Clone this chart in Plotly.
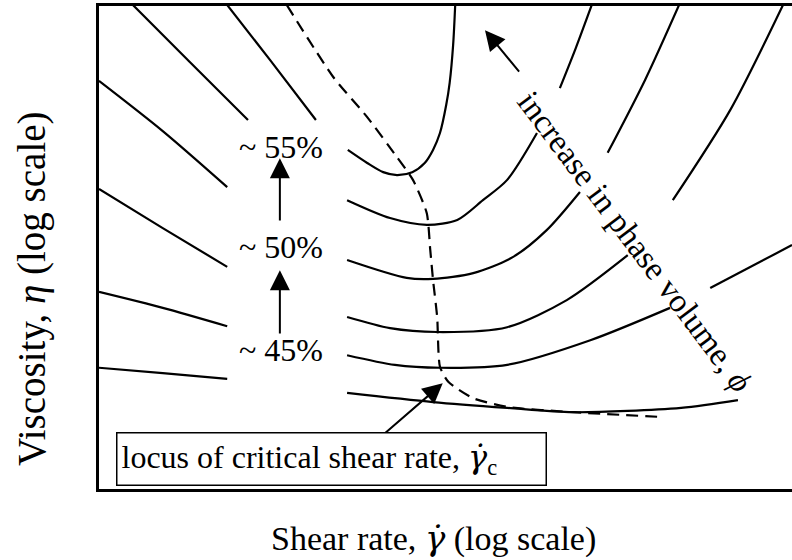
import plotly.graph_objects as go

# ---- data (log shear rate, log viscosity; arbitrary schematic units) ----
# low-shear branches (left of labels)
L1_x = [0.49, 1.31, 2.15]; L1_y = [10.02, 8.84, 7.64]
L2_x = [1.85, 2.47, 3.13]; L2_y = [10.02, 8.88, 7.64]
L3_x = [0.00, 0.92, 1.85]; L3_y = [8.45, 7.41, 6.25]
L4_x = [0.00, 0.92, 1.85]; L4_y = [6.21, 5.40, 4.60]
L5_x = [0.00, 0.92, 1.85]; L5_y = [4.08, 3.75, 3.37]
L6_x = [0.00, 0.92, 1.85]; L6_y = [2.51, 2.40, 2.28]

# high-shear branches (right of labels), broken where the rotated text sits
R1_x = [3.59, 3.87, 4.10, 4.30, 4.52, 4.70, 4.82, 4.92, 5.01, 5.06, 5.11, 5.14]
R1_y = [7.02, 6.75, 6.56, 6.50, 6.56, 6.75, 7.02, 7.37, 7.95, 8.41, 9.19, 10.02]
R2a_x = [3.58, 4.20, 4.73, 5.17, 5.54, 5.89, 6.32]
R2a_y = [5.98, 5.61, 5.47, 5.57, 5.98, 6.40, 7.37]
R2b_x = [6.65, 6.88, 7.11]
R2b_y = [8.30, 9.13, 10.02]
R3a_x = [3.58, 4.44, 4.82, 5.40, 5.97, 6.46, 6.94]
R3a_y = [4.74, 4.37, 4.35, 4.47, 4.80, 5.36, 6.15]
R3b_x = [7.34, 7.88, 8.37]
R3b_y = [6.96, 8.47, 10.02]
R4a_x = [3.58, 4.20, 4.88, 5.89, 6.75, 7.63]
R4a_y = [3.56, 3.33, 3.25, 3.35, 3.91, 4.84]
R4b_x = [8.28, 9.11, 9.87]
R4b_y = [5.98, 7.85, 10.02]
R5a_x = [3.58, 4.27, 4.92, 5.89, 7.09, 8.24]
R5a_y = [2.77, 2.57, 2.51, 2.57, 3.08, 3.75]
R5b_x = [8.82, 10.0]
R5b_y = [4.16, 5.05]
R6_x = [3.58, 4.82, 5.89, 6.84, 8.40, 9.22]
R6_y = [1.99, 1.80, 1.68, 1.59, 1.68, 1.84]

# locus of critical shear rate (dashed)
LOC_x = [2.71, 3.38, 3.87, 4.30, 4.53, 4.73, 4.78, 4.82, 4.88, 4.92, 5.04, 5.40, 5.89, 6.84, 8.14]
LOC_y = [10.02, 8.53, 7.70, 6.87, 6.40, 5.71, 4.95, 4.33, 3.56, 2.53, 2.22, 1.88, 1.70, 1.59, 1.49]

# phase-volume labels
PHI_labels = ["~ 55%", "~ 50%", "~ 45%"]
PHI_x = [2.63, 2.63, 2.63]
PHI_y = [7.08, 5.01, 2.88]

# arrows: (tip x, tip y, tail x, tail y)
ARROWS = [
    (2.61, 6.85, 2.61, 5.53),
    (2.61, 4.53, 2.61, 3.19),
    (4.96, 2.19, 4.10, 1.12),
    (5.57, 9.50, 6.08, 8.61),
]

FONT = "Liberation Serif, Times New Roman, serif"
GDOT = '<span style="font-family:DejaVu Serif"><i>γ\u0307</i></span>'

fig = go.Figure()

solid = [(L1_x, L1_y), (L2_x, L2_y), (L3_x, L3_y), (L4_x, L4_y), (L5_x, L5_y), (L6_x, L6_y),
         (R1_x, R1_y), (R2a_x, R2a_y), (R2b_x, R2b_y), (R3a_x, R3a_y), (R3b_x, R3b_y),
         (R4a_x, R4a_y), (R4b_x, R4b_y), (R5a_x, R5a_y), (R5b_x, R5b_y), (R6_x, R6_y)]
for xs, ys in solid:
    fig.add_trace(go.Scatter(x=xs, y=ys, mode="lines",
                             line=dict(color="black", width=2.2, shape="spline", smoothing=0.8),
                             hoverinfo="skip", showlegend=False))

fig.add_trace(go.Scatter(x=LOC_x, y=LOC_y, mode="lines",
                         line=dict(color="black", width=2.2, dash="12px,7px", shape="spline", smoothing=0.6),
                         hoverinfo="skip", showlegend=False))

annotations = []
for t, x, y in zip(PHI_labels, PHI_x, PHI_y):
    annotations.append(dict(x=x, y=y, text=t, showarrow=False,
                            font=dict(family=FONT, size=32, color="black")))

for tx, ty, sx, sy in ARROWS:
    annotations.append(dict(x=tx, y=ty, ax=sx, ay=sy, axref="x", ayref="y", xref="x", yref="y",
                            text="", showarrow=True, arrowhead=2, arrowsize=2,
                            arrowwidth=2, arrowcolor="black", standoff=0, startstandoff=0))

annotations.append(dict(x=7.74, y=5.12, text="increase in phase volume, <i>ϕ</i>",
                        textangle=53, showarrow=False,
                        font=dict(family=FONT, size=33, color="black")))

annotations.append(dict(x=3.35, y=0.62, text="locus of critical shear rate, " + GDOT + "<sub>c</sub>",
                        showarrow=False, width=420, height=43, align="left", valign="middle",
                        bordercolor="black", borderwidth=1.5, borderpad=4, bgcolor="white",
                        font=dict(family=FONT, size=32, color="black")))

annotations.append(dict(xref="paper", yref="paper", x=0.483, y=-0.101,
                        xanchor="center", yanchor="middle",
                        text="Shear rate, " + GDOT + " (log scale)", showarrow=False,
                        font=dict(family=FONT, size=34, color="black")))
annotations.append(dict(xref="paper", yref="paper", x=-0.0967, y=0.416,
                        xanchor="center", yanchor="middle",
                        text="Viscosity, <i>η</i> (log scale)", showarrow=False, textangle=-90,
                        font=dict(family=FONT, size=39, color="black")))

fig.update_layout(
    width=792, height=560,
    margin=dict(l=99, r=0, t=6, b=71),
    paper_bgcolor="white", plot_bgcolor="white",
    showlegend=False, hovermode=False,
    annotations=annotations,
    xaxis=dict(range=[0, 10], showgrid=False, zeroline=False, showticklabels=False, ticks="",
               showline=True, linecolor="black", linewidth=3, mirror=True, fixedrange=True),
    yaxis=dict(range=[0, 10], showgrid=False, zeroline=False, showticklabels=False, ticks="",
               showline=True, linecolor="black", linewidth=3, mirror=False, fixedrange=True),
)

fig.write_html("out.html")
